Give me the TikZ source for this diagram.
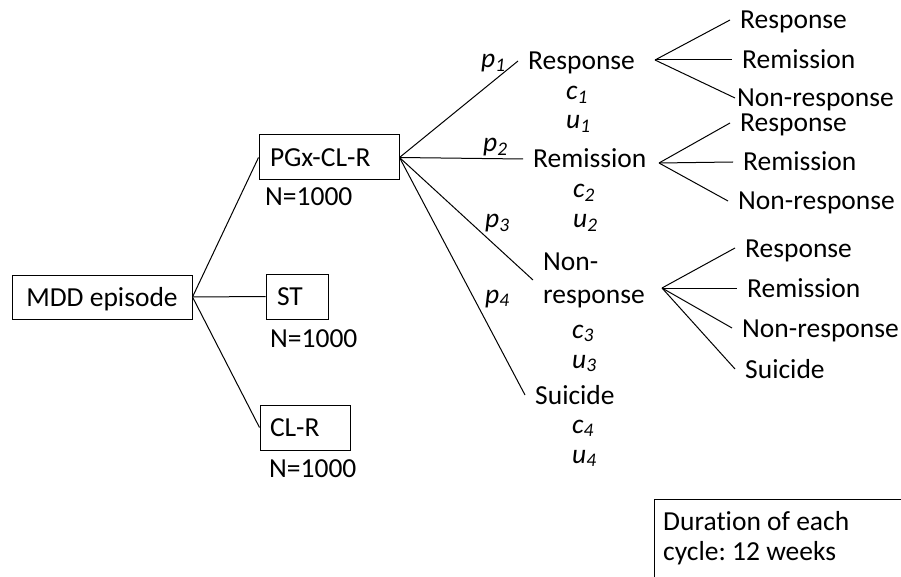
\documentclass[tikz,border=0pt]{standalone}
\usepackage{fontspec}
\setmainfont{Carlito}[Ligatures=NoCommon]
\frenchspacing
\begin{document}
\begin{tikzpicture}[x=1pt,y=-1pt,
  every node/.style={font=\fontsize{27.5}{33}\selectfont, inner sep=0pt},
  box/.style={draw, line width=1pt, align=left, text height=18pt, text depth=0pt, inner ysep=0pt},
  lbl/.style={anchor=base west, text height=18pt, text depth=0pt, inner xsep=10pt},
  txt/.style={anchor=base west},
  itl/.style={anchor=base west, font=\fontsize{27.5}{33}\selectfont\itshape},
  conn/.style={line width=1pt}]
\useasboundingbox (0,0) rectangle (901,577);

% first level
\node[draw, line width=1pt, text height=18pt, text depth=0pt, inner sep=0pt, minimum width=180pt, minimum height=44pt] (mdd) at (102,297) {MDD episode};
\node[box, text width=118pt, inner xsep=11pt, minimum height=45pt] (pgx) at (329,157.5) {PGx-CL-R};
\node[box, text width=40pt, inner xsep=11pt, minimum height=45pt] (st) at (297,296.5) {ST};
\node[box, text width=70pt, inner xsep=10pt, minimum height=45pt] (clr) at (305,427.5) {CL-R};
\node[txt] (n1) at (265,206) {N=1000};
\node[txt] (n2) at (270,347) {N=1000};
\node[txt] (n3) at (269,477) {N=1000};

% outcomes
\node[lbl] (resp) at (518,70) {Response};
\node[lbl] (remi) at (523,168) {Remission};
\node[anchor=west, align=left, inner xsep=10pt] (nonr) at (533,280) {Non-\\response};
\node[lbl] (sui) at (525,404) {Suicide};

\node[itl] (p1) at (481,68) {p\textsubscript{1}};
\node[itl] (p2) at (483,152) {p\textsubscript{2}};
\node[itl] (p3) at (485,228) {p\textsubscript{3}};
\node[itl] (p4) at (485,303) {p\textsubscript{4}};

\node[itl] (c1) at (566,100) {c\textsubscript{1}};
\node[itl] (u1) at (566,129) {u\textsubscript{1}};
\node[itl] (c2) at (573,198) {c\textsubscript{2}};
\node[itl] (u2) at (573,228) {u\textsubscript{2}};
\node[itl] (c3) at (572,338) {c\textsubscript{3}};
\node[itl] (u3) at (572,368) {u\textsubscript{3}};
\node[itl] (c4) at (572,433) {c\textsubscript{4}};
\node[itl] (u4) at (572,463) {u\textsubscript{4}};

% leaves
\coordinate (f1) at (655,60);
\coordinate (f2) at (659,163);
\coordinate (f3) at (662,288);
\node[lbl] (a1) at (730,29) {Response};
\node[lbl] (a2) at (732,69) {Remission};
\node[lbl, inner xsep=2pt] (a3) at (735,107) {Non-response};
\node[lbl] (b1) at (730,132) {Response};
\node[lbl] (b2) at (733,171) {Remission};
\node[lbl] (b3) at (728,210) {Non-response};
\node[lbl] (d1) at (735,257) {Response};
\node[lbl] (d2) at (737,297) {Remission};
\node[lbl] (d3) at (732,337) {Non-response};
\node[lbl] (d4) at (735,378) {Suicide};

% connectors
\draw[conn] (mdd.east) -- (pgx.west);
\draw[conn] (mdd.east) -- (st.west);
\draw[conn] (mdd.east) -- (clr.west);
\draw[conn] (pgx.east) -- (resp.west);
\draw[conn] (pgx.east) -- (remi.west);
\draw[conn] (pgx.east) -- (nonr.west);
\draw[conn] (pgx.east) -- (sui.west);
\foreach \t in {a1,a2,a3} \draw[conn] (f1) -- (\t.west);
\foreach \t in {b1,b2,b3} \draw[conn] (f2) -- (\t.west);
\foreach \t in {d1,d2,d3,d4} \draw[conn] (f3) -- (\t.west);

% duration box
\draw[conn] (654,577) |- (901,499);
\node[txt, align=left, font=\fontsize{27.5}{30}\selectfont] (dur) at (663,560) {Duration of each\\cycle: 12 weeks};
\end{tikzpicture}
\end{document}
